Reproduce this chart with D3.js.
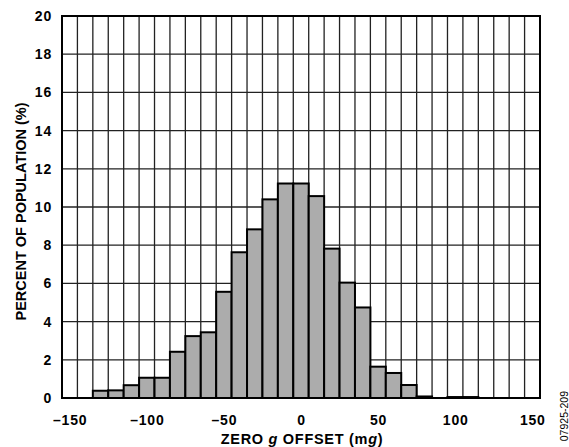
<!DOCTYPE html>
<html>
<head>
<meta charset="utf-8">
<script src="https://cdn.jsdelivr.net/npm/d3@7/dist/d3.min.js"></script>
<style>
  html, body { margin: 0; padding: 0; background: #fff; }
  svg { display: block; }
  text { font-family: "Liberation Sans", Arial, sans-serif; }
</style>
</head>
<body>
<svg id="chart" width="569" height="447"></svg>
<script>
// ---- Data ----
const binCenters = [-150,-140,-130,-120,-110,-100,-90,-80,-70,-60,-50,-40,-30,-20,-10,0,10,20,30,40,50,60,70,80,90,100,110,120,130,140,150];
const percentValues = [0,0,0.38,0.40,0.67,1.06,1.06,2.42,3.24,3.44,5.56,7.63,8.83,10.4,11.23,11.23,10.57,7.82,6.04,4.74,1.64,1.31,0.68,0.08,0,0.05,0.05,0,0,0,0];
const binWidth = 10;
const xTickValues = [-150,-100,-50,0,50,100,150];
const yTickValues = [0,2,4,6,8,10,12,14,16,18,20];
const xTitle = ["ZERO ", "g", " OFFSET (m", "g", ")"];
const yTitle = "PERCENT OF POPULATION (%)";
const figureId = "07925-209";

// ---- Layout ----
const svg = d3.select("#chart");
const pL = 62, pR = 540, pT = 16, pB = 398;

const x = d3.scaleLinear()
  .domain([binCenters[0] - binWidth / 2, binCenters[binCenters.length - 1] + binWidth / 2])
  .range([pL, pR]);
const y = d3.scaleLinear().domain([0, 20]).range([pB, pT]);

// grid: vertical lines at bin edges
const edges = binCenters.map(c => c - binWidth / 2).concat([binCenters[binCenters.length - 1] + binWidth / 2]);
svg.append("g").selectAll("line").data(edges).join("line")
  .attr("x1", d => x(d)).attr("x2", d => x(d))
  .attr("y1", pT).attr("y2", pB)
  .attr("stroke", "#222").attr("stroke-width", 1.3);

svg.append("g").selectAll("line").data(yTickValues).join("line")
  .attr("x1", pL).attr("x2", pR)
  .attr("y1", d => y(d)).attr("y2", d => y(d))
  .attr("stroke", "#222").attr("stroke-width", 1.3);

// bars
const data = binCenters.map((c, i) => ({ c, v: percentValues[i] })).filter(d => d.v > 0);
svg.append("g").selectAll("rect").data(data).join("rect")
  .attr("x", d => x(d.c - binWidth / 2))
  .attr("width", d => x(d.c + binWidth / 2) - x(d.c - binWidth / 2))
  .attr("y", d => y(d.v))
  .attr("height", d => y(0) - y(d.v))
  .attr("fill", "#acacac")
  .attr("stroke", "#000")
  .attr("stroke-width", 2);

// frame
svg.append("rect")
  .attr("x", pL).attr("y", pT)
  .attr("width", pR - pL).attr("height", pB - pT)
  .attr("fill", "none").attr("stroke", "#000").attr("stroke-width", 2);

// axes labels (via d3 axes, with domain/ticks hidden)
const fmt = d => (d < 0 ? "\u2013" + Math.abs(d) : String(d));
const xAxis = svg.append("g")
  .attr("transform", `translate(0,${pB})`)
  .call(d3.axisBottom(x).tickValues(xTickValues).tickFormat(fmt).tickSize(0).tickPadding(17));
xAxis.select(".domain").remove();
xAxis.selectAll("text")
  .attr("font-size", 14).attr("font-weight", "bold").attr("fill", "#000")
  .attr("letter-spacing", 0.8)
  .attr("font-family", "Liberation Sans, Arial, sans-serif");

const yAxis = svg.append("g")
  .attr("transform", `translate(${pL},0)`)
  .call(d3.axisLeft(y).tickValues(yTickValues).tickFormat(fmt).tickSize(0).tickPadding(10));
yAxis.select(".domain").remove();
yAxis.selectAll("text")
  .attr("font-size", 14).attr("font-weight", "bold").attr("fill", "#000")
  .attr("letter-spacing", 0.8)
  .attr("font-family", "Liberation Sans, Arial, sans-serif");

// x title
const xt = svg.append("text")
  .attr("x", 302).attr("y", 443.5)
  .attr("text-anchor", "middle")
  .attr("font-size", 14.5).attr("font-weight", "bold")
  .attr("letter-spacing", 0.7);
xTitle.forEach((t) => {
  xt.append("tspan").text(t).attr("font-style", t === "g" ? "italic" : "normal");
});

// y title
svg.append("text")
  .attr("transform", `translate(25.5,211.5) rotate(-90)`)
  .attr("text-anchor", "middle")
  .attr("font-size", 14.5).attr("font-weight", "bold")
  .text(yTitle);

// figure id
svg.append("text")
  .attr("transform", `translate(568,391) rotate(-90)`)
  .attr("text-anchor", "end")
  .attr("font-size", 10.5)
  .text(figureId);
</script>
</body>
</html>
